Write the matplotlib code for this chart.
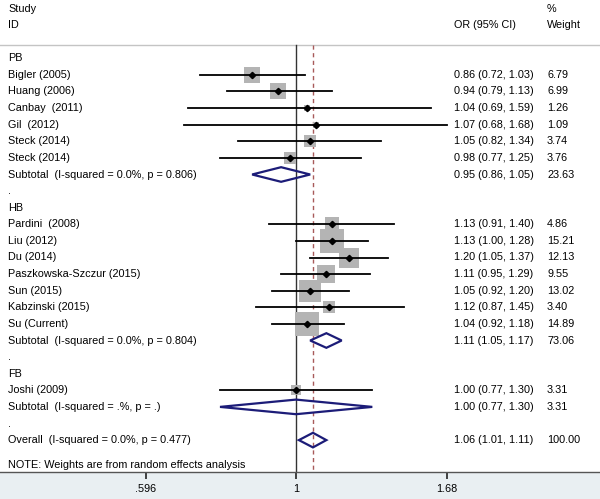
import numpy as np
from matplotlib import pyplot as plt
from matplotlib.patches import Polygon
from matplotlib.transforms import blended_transform_factory

plt.rcParams['font.family'] = ['Liberation Sans', 'DejaVu Sans']

# rows, top to bottom: kind is 'group', 'study', 'sub', 'gap', 'overall'
labels = ["PB", "Bigler (2005)", "Huang (2006)", "Canbay  (2011)", "Gil  (2012)",
          "Steck (2014)", "Steck (2014)", "Subtotal  (I-squared = 0.0%, p = 0.806)", ".",
          "HB", "Pardini  (2008)", "Liu (2012)", "Du (2014)", "Paszkowska-Szczur (2015)",
          "Sun (2015)", "Kabzinski (2015)", "Su (Current)",
          "Subtotal  (I-squared = 0.0%, p = 0.804)", ".",
          "FB", "Joshi (2009)", "Subtotal  (I-squared = .%, p = .)", ".",
          "Overall  (I-squared = 0.0%, p = 0.477)"]
kinds = ["group", "study", "study", "study", "study", "study", "study", "sub", "gap",
         "group", "study", "study", "study", "study", "study", "study", "study", "sub", "gap",
         "group", "study", "sub", "gap", "overall"]
odds = [None, 0.86, 0.94, 1.04, 1.07, 1.05, 0.98, 0.95, None,
        None, 1.13, 1.13, 1.20, 1.11, 1.05, 1.12, 1.04, 1.11, None,
        None, 1.00, 1.00, None, 1.06]
lower = [None, 0.72, 0.79, 0.69, 0.68, 0.82, 0.77, 0.86, None,
         None, 0.91, 1.00, 1.05, 0.95, 0.92, 0.87, 0.92, 1.05, None,
         None, 0.77, 0.77, None, 1.01]
upper = [None, 1.03, 1.13, 1.59, 1.68, 1.34, 1.25, 1.05, None,
         None, 1.40, 1.28, 1.37, 1.29, 1.20, 1.45, 1.18, 1.17, None,
         None, 1.30, 1.30, None, 1.11]
weights = [None, 6.79, 6.99, 1.26, 1.09, 3.74, 3.76, 23.63, None,
           None, 4.86, 15.21, 12.13, 9.55, 13.02, 3.40, 14.89, 73.06, None,
           None, 3.31, 3.31, None, 100.00]
xticks = [0.596, 1, 1.68]
xtick_labels = [".596", "1", "1.68"]
overall_or = 1.06

W, H = 600, 499
band_h = 27
fig = plt.figure(figsize=(W / 100, H / 100), dpi=100, facecolor='#e9eff2')
ax = fig.add_axes([0, band_h / H, 1, 1 - band_h / H])
ax.set_facecolor('white')

px_per_ln = 290.8
x0 = 296.0
ax.set_xscale('log')
ax.set_xlim(np.exp(-x0 / px_per_ln), np.exp((W - x0) / px_per_ln))

row0, dy = 58.3, 16.6
top_r = -row0 / dy
bot_r = (H - band_h - row0) / dy
ax.set_ylim(bot_r, top_r)

def fx(px):
    return px / W

tt = blended_transform_factory(ax.transAxes, ax.transData)

fs = 7.8
sep_r = (44.7 - row0) / dy
ax.plot([0, 1], [sep_r, sep_r], transform=tt, color='#c4c4c4', lw=1)

ax.text(fx(8), (9 - row0) / dy, "Study", transform=tt, va='center', fontsize=fs)
ax.text(fx(8), (25 - row0) / dy, "ID", transform=tt, va='center', fontsize=fs)
ax.text(fx(454), (25 - row0) / dy, "OR (95% CI)", transform=tt, va='center', fontsize=fs)
ax.text(fx(547), (9 - row0) / dy, "%", transform=tt, va='center', fontsize=fs)
ax.text(fx(547), (25 - row0) / dy, "Weight", transform=tt, va='center', fontsize=fs)

ax.plot([1, 1], [sep_r, bot_r], color='#333333', lw=1, zorder=2)
ax.plot([overall_or, overall_or], [sep_r, bot_r], color='#a85a5a', lw=1,
        ls=(0, (3, 2.5)), zorder=2)

for i, lab in enumerate(labels):
    ax.text(fx(8), i, lab, transform=tt, va='center', fontsize=fs)
    k = kinds[i]
    if odds[i] is None:
        continue
    ax.text(fx(454), i, "%.2f (%.2f, %.2f)" % (odds[i], lower[i], upper[i]),
            transform=tt, va='center', fontsize=fs)
    ax.text(fx(547), i, "%.2f" % weights[i], transform=tt, va='center', fontsize=fs)
    if k == 'study':
        side = 6.0 * np.sqrt(weights[i]) * 0.72
        ax.scatter([odds[i]], [i], s=side ** 2, marker='s', color='#b4b4b4',
                   linewidths=0, zorder=3)
        ax.plot([lower[i], upper[i]], [i, i], color='black', lw=1.3, zorder=4)
        ax.plot([odds[i]], [i], marker='D', ms=3.2, color='black', zorder=5)
    else:
        hh = 0.44
        d = Polygon([[lower[i], i], [odds[i], i - hh], [upper[i], i], [odds[i], i + hh]],
                    closed=True, fill=False, edgecolor='#1c1c78', lw=1.6, zorder=5)
        ax.add_patch(d)

ax.text(fx(8), (465 - row0) / dy, "NOTE: Weights are from random effects analysis",
        transform=tt, va='center', fontsize=fs)

for s in ['top', 'left', 'right']:
    ax.spines[s].set_visible(False)
ax.spines['bottom'].set_color('#555555')
ax.spines['bottom'].set_linewidth(1)
ax.set_yticks([])
ax.set_xticks(xticks)
ax.set_xticklabels(xtick_labels)
ax.xaxis.set_minor_locator(plt.NullLocator())
ax.tick_params(axis='x', which='major', bottom=True, direction='out', length=5,
               width=1.2, color='#222222', labelsize=fs, pad=4)

fig.savefig('out.png', dpi=100, facecolor=fig.get_facecolor())
